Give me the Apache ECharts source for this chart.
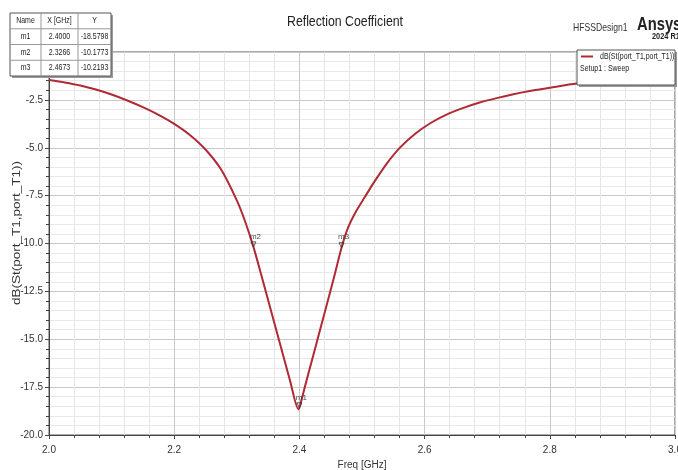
<!DOCTYPE html>
<html>
<head>
<meta charset="utf-8">
<script src="https://cdn.jsdelivr.net/npm/echarts@6/dist/echarts.min.js"></script>
<style>
  html, body { margin: 0; padding: 0; background: #ffffff; }
  #chart { width: 678px; height: 470px; }
</style>
</head>
<body>
<div id="chart"></div>
<script>
// Swept S11 of port_T1 (dB) against frequency (GHz)
const freqGHz = [2.000, 2.025, 2.050, 2.075, 2.100, 2.125, 2.150, 2.175, 2.200, 2.225,
                 2.250, 2.275, 2.300, 2.3133, 2.3266, 2.340, 2.355, 2.370, 2.385, 2.3983,
                 2.4000, 2.410, 2.425, 2.440, 2.455, 2.4673, 2.478, 2.490, 2.505, 2.518,
                 2.539, 2.561, 2.585, 2.609, 2.635, 2.661, 2.688, 2.715, 2.740, 2.768,
                 2.805, 2.843, 2.900, 2.950, 3.000];
const s11Db   = [-1.46, -1.59, -1.75, -1.96, -2.22, -2.53, -2.88, -3.28, -3.75, -4.33,
                 -5.09, -6.14, -7.75, -8.85, -10.1773, -11.75, -13.55, -15.35, -17.15, -18.65,
                 -18.5798, -17.33, -15.50, -13.65, -11.80, -10.2193, -9.15, -8.35, -7.55, -6.86,
                 -5.85, -4.98, -4.27, -3.72, -3.27, -2.93, -2.64, -2.41, -2.22, -2.04,
                 -1.84, -1.65, -1.45, -1.31, -1.20];

// Markers placed on the trace
const markerNames = ['m1', 'm2', 'm3'];
const markerFreq  = [2.4000, 2.3266, 2.4673];
const markerDb    = [-18.5798, -10.1773, -10.2193];

// Axis ranges and steps
const xRange = [2.0, 3.0];
const xStep = 0.2;
const yRange = [-20, 0];
const yStep = 2.5;

const traceName = 'dB(St(port_T1,port_T1))';
const sweepName = 'Setup1 : Sweep';
const traceColor = '#b02a35';
const SQUEEZE = 0.82;
const NARROW = "'Liberation Sans Narrow', 'Arial Narrow', 'Liberation Sans', Arial, sans-serif";

function label(x, y, text, size, extra) {
  extra = extra || {};
  return {
    type: 'text', x: x, y: y, z: 100,
    scaleX: extra.scaleX !== undefined ? extra.scaleX : SQUEEZE,
    scaleY: extra.scaleY !== undefined ? extra.scaleY : 1,
    rotation: extra.rotation || 0,
    style: {
      text: text,
      font: (extra.weight || 'normal') + ' ' + size + "px 'Liberation Sans', Arial, sans-serif",
      fill: extra.fill || '#222',
      textAlign: extra.align || 'left',
      textVerticalAlign: 'middle'
    }
  };
}

// Marker table (top left)
const colX = [10, 41, 78, 111];
const rowY = [13, 28.75, 44.5, 60.25, 76];
const tableEls = [];
tableEls.push({ type: 'rect', z: 99, shape: { x: colX[0] + 2, y: rowY[0] + 2, width: colX[3] - colX[0], height: rowY[4] - rowY[0] },
  style: { fill: '#9a9a9a' } });
tableEls.push({ type: 'rect', z: 100, shape: { x: colX[0], y: rowY[0], width: colX[3] - colX[0], height: rowY[4] - rowY[0] },
  style: { fill: '#ffffff', stroke: '#555', lineWidth: 1 } });
for (let i = 1; i < 3; i++) {
  tableEls.push({ type: 'line', z: 100, shape: { x1: colX[i], y1: rowY[0], x2: colX[i], y2: rowY[4] },
    style: { stroke: '#999', lineWidth: 1 } });
}
for (let j = 1; j < 4; j++) {
  tableEls.push({ type: 'line', z: 100, shape: { x1: colX[0], y1: rowY[j], x2: colX[3], y2: rowY[j] },
    style: { stroke: '#999', lineWidth: 1 } });
}
const header = ['Name', 'X [GHz]', 'Y'];
header.forEach((h, i) => {
  tableEls.push(label((colX[i] + colX[i + 1]) / 2, (rowY[0] + rowY[1]) / 2, h, 8.5, { align: 'center' }));
});
markerNames.forEach((n, r) => {
  const cy = (rowY[r + 1] + rowY[r + 2]) / 2;
  const cells = [n, markerFreq[r].toFixed(4), markerDb[r].toFixed(4)];
  cells.forEach((c, i) => {
    tableEls.push(label((colX[i] + colX[i + 1]) / 2, cy, c, 8.5, { align: 'center' }));
  });
});

// Trace legend box (top right)
const legendEls = [
  { type: 'rect', z: 99, shape: { x: 579, y: 52, width: 98, height: 35 }, style: { fill: '#9a9a9a' } },
  { type: 'rect', z: 100, shape: { x: 577, y: 50, width: 98, height: 35 }, style: { fill: '#ffffff', stroke: '#555', lineWidth: 1 } },
  { type: 'line', z: 100, shape: { x1: 581, y1: 56.5, x2: 593, y2: 56.5 }, style: { stroke: traceColor, lineWidth: 2 } },
  label(600, 56.5, traceName, 8.5),
  label(580, 68.5, sweepName, 8.5)
];

// Title, design name and product mark
const headerEls = [
  label(345, 21.5, 'Reflection Coefficient', 15, { align: 'center', fill: '#222' }),
  label(573, 28, 'HFSSDesign1', 10.5, { fill: '#333' }),
  label(637, 25, 'Ansys', 18, { weight: 'bold', fill: '#222' }),
  label(652, 37, '2024 R1', 9, { weight: 'bold', fill: '#222' }),
  label(17, 233, traceName, 13.5, { rotation: Math.PI / 2, scaleX: 1, scaleY: 0.78, align: 'center', fill: '#333' })
];

const chart = echarts.init(document.getElementById('chart'), null, { renderer: 'canvas' });

chart.setOption({
  animation: false,
  backgroundColor: '#ffffff',
  grid: {
    left: 49, right: 3, top: 52, bottom: 35,
    containLabel: false,
    outerBoundsMode: 'none',
    show: true, borderColor: '#555', borderWidth: 1, backgroundColor: '#ffffff'
  },
  xAxis: {
    type: 'value',
    min: xRange[0], max: xRange[1], interval: xStep,
    name: 'Freq [GHz]', nameLocation: 'middle', nameGap: 19,
    nameTextStyle: { fontFamily: NARROW, fontSize: 10, color: '#333' },
    axisLine: { show: true, onZero: false, lineStyle: { color: '#444', width: 1 } },
    axisTick: { show: true, length: 4, lineStyle: { color: '#444' } },
    minorTick: { show: true, splitNumber: 5, length: 3, lineStyle: { color: '#444' } },
    splitLine: { show: true, lineStyle: { color: '#c9c9c9', width: 1 } },
    minorSplitLine: { show: true, lineStyle: { color: '#e6e6e6', width: 1 } },
    axisLabel: {
      margin: 10, fontFamily: NARROW, fontSize: 10, color: '#333',
      formatter: v => v.toFixed(1)
    }
  },
  yAxis: {
    type: 'value',
    min: yRange[0], max: yRange[1], interval: yStep,
    axisLine: { show: true, onZero: false, lineStyle: { color: '#444', width: 1 } },
    axisTick: { show: true, length: 4, lineStyle: { color: '#444' } },
    minorTick: { show: true, splitNumber: 5, length: 3, lineStyle: { color: '#444' } },
    splitLine: { show: true, lineStyle: { color: '#c9c9c9', width: 1 } },
    minorSplitLine: { show: true, lineStyle: { color: '#e8e8e8', width: 1 } },
    axisLabel: {
      margin: 6, fontFamily: NARROW, fontSize: 10, color: '#333',
      formatter: v => v.toFixed(1)
    }
  },
  series: [
    {
      name: traceName,
      type: 'line',
      data: freqGHz.map((f, i) => [f, s11Db[i]]),
      showSymbol: false,
      smooth: 0.25,
      lineStyle: { color: traceColor, width: 2 },
      z: 3
    },
    {
      name: 'markers',
      type: 'scatter',
      data: markerFreq.map((f, i) => ({ value: [f, markerDb[i]], name: markerNames[i] })),
      symbol: 'triangle',
      symbolRotate: 180,
      symbolSize: 5,
      symbolOffset: [0, '-50%'],
      itemStyle: { color: 'rgba(255,255,255,0)', borderColor: '#333', borderWidth: 1 },
      label: {
        show: true, position: 'top', distance: 1, offset: [2, 0],
        formatter: p => p.name,
        fontFamily: NARROW, fontSize: 8, color: '#222'
      },
      z: 4
    }
  ],
  graphic: headerEls.concat(tableEls, legendEls)
});
</script>
</body>
</html>
